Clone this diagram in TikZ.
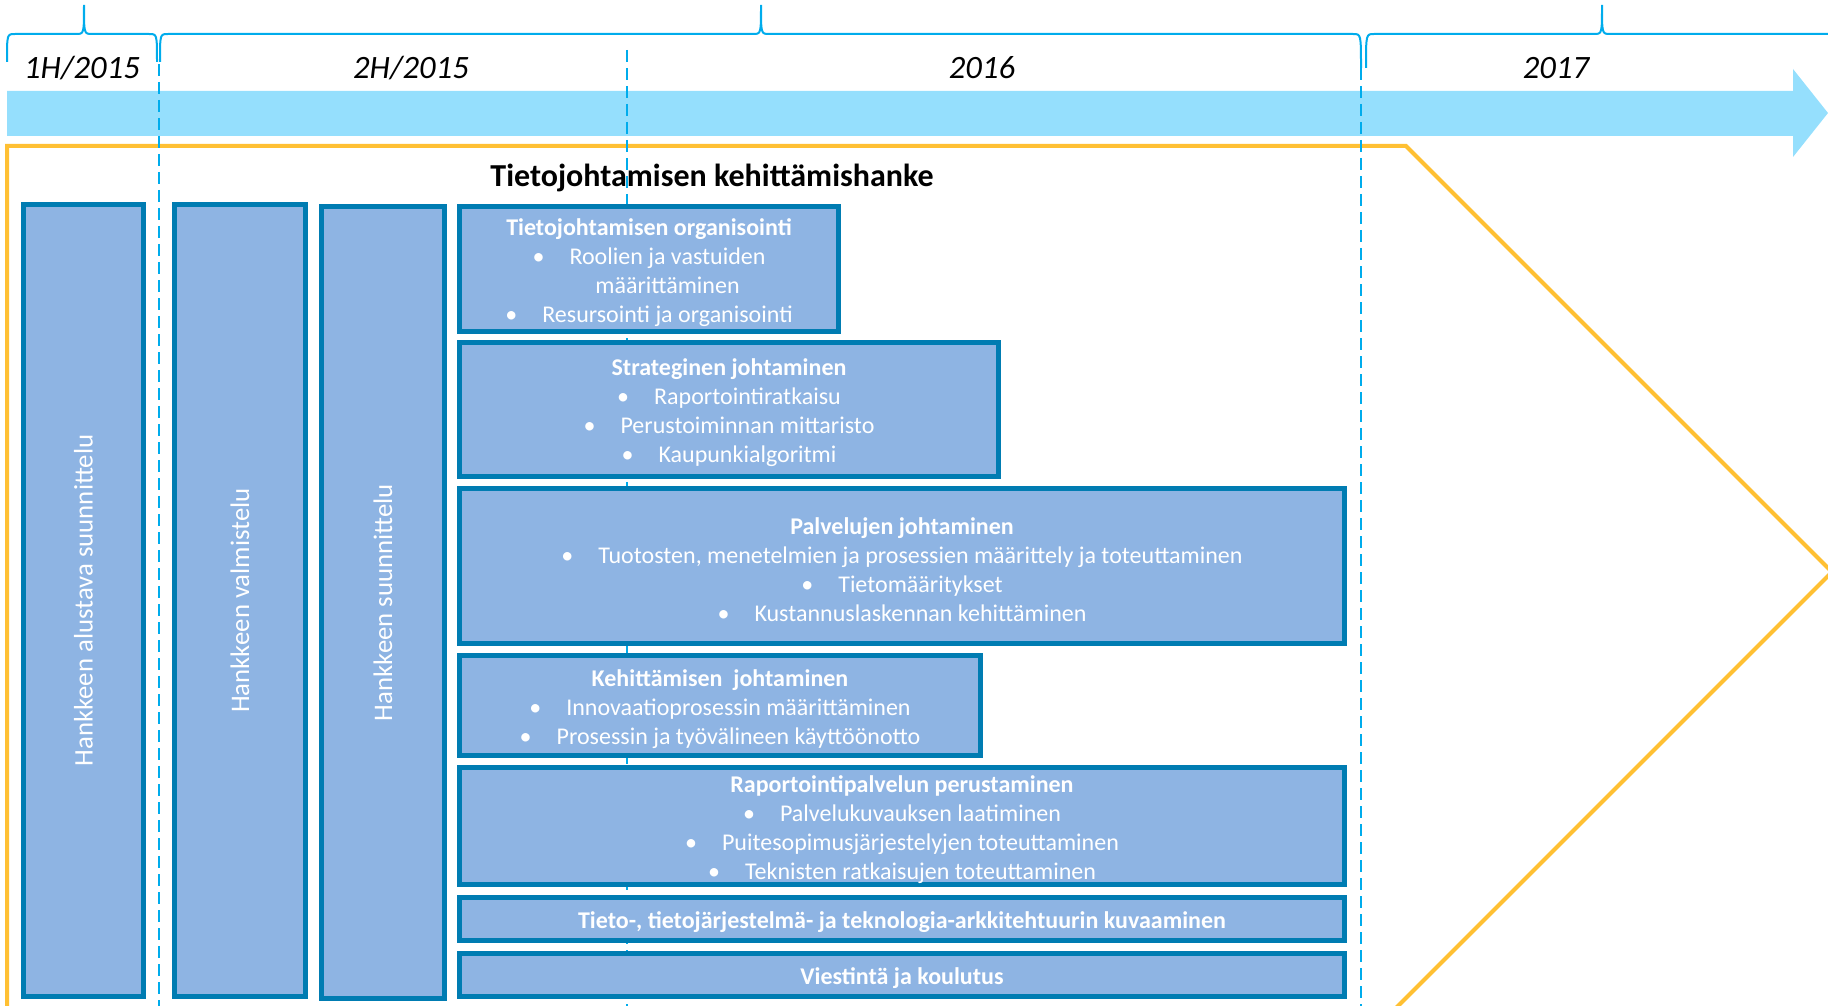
\documentclass[tikz,border=0pt]{standalone}
\usepackage{fontspec}
\setmainfont{Carlito}
\definecolor{bandblue}{RGB}{149,223,253}
\definecolor{boxfill}{RGB}{142,180,227}
\definecolor{boxline}{RGB}{0,124,178}
\definecolor{lineblue}{RGB}{0,172,236}
\definecolor{hankeorange}{RGB}{255,192,51}
\newcommand{\bul}{\makebox[18.5pt][l]{\textbullet}}
\newcommand{\phasehead}[1]{\rule{0pt}{12pt}\textbf{#1}}
% x0, x1, tip, left end, right end
\newcommand{\yrbrace}[5]{\draw[yearbrace] (#1,#4) .. controls (#1,34) and (#1,34) .. (#1+8,34) -- (#3-8,34) .. controls (#3,34) and (#3,34) .. (#3,5) .. controls (#3,34) and (#3,34) .. (#3+8,34) -- (#2-8,34) .. controls (#2,34) and (#2,34) .. (#2,#5);}
\tikzset{
  phasebox/.style={draw=boxline, line width=2.5pt, fill=boxfill, text=white, inner sep=0pt, align=center},
  phase/.style={phasebox, font=\fontsize{12}{14.5}\selectfont},
  vphase/.style={phasebox, rotate=90, font=\fontsize{13.4}{16}\selectfont},
  year/.style={font=\fontsize{16.3}{19}\selectfont\itshape, anchor=base},
  yearbrace/.style={draw=lineblue, line width=1pt},
  divider/.style={draw=lineblue, line width=1.2pt, dash pattern=on 6pt off 3pt},
}
\begin{document}
\begin{tikzpicture}[x=0.5pt,y=-0.5pt]
\useasboundingbox (0,0) rectangle (1828,1006);
\clip (0,0) rectangle (1828,1006);

% timeline
\fill[bandblue] (7,91) -- (1793,91) -- (1793,69) -- (1828,113) -- (1793,157) -- (1793,136) -- (7,136) -- cycle;
\yrbrace{7}{157}{84}{62}{62}
\yrbrace{160}{1361}{761}{62}{68}
\yrbrace{1366}{2060}{1602}{68}{68}
\node[year] (h1) at (82,79) {1H/2015};
\node[year] (h2) at (411,79) {2H/2015};
\node[year] (y16) at (982,79) {2016};
\node[year] (y17) at (1556,79) {2017};

% hanke
\draw[hankeorange, line width=2pt] (7,1012) -- (7,146) -- (1406,146) -- (1832,572) -- (1392,1012);
\draw[divider] (159,64) -- (159,1006);
\draw[divider] (627,50) -- (627,1006);
\draw[divider] (1361,68) -- (1361,1006);
\node[font=\fontsize{16}{18}\selectfont\bfseries, anchor=base] (hanke) at (712,187) {Tietojohtamisen kehittämishanke};

\node[vphase, minimum width=396pt, minimum height=60pt] (alust) at (83.5,600.5) {Hankkeen alustava suunnittelu};
\node[vphase, minimum width=396pt, minimum height=65.5pt] (valm) at (240,600.5) {Hankkeen valmistelu};
\node[vphase, minimum width=396pt, minimum height=61.5pt] (suunn) at (383,602.5) {Hankkeen suunnittelu};

\node[phase, minimum width=189.5pt, minimum height=62.5pt] (org) at (649,269) {\phasehead{Tietojohtamisen organisointi}\\ \bul Roolien ja vastuiden\\ \hphantom{\bul}määrittäminen\\ \bul Resursointi ja organisointi};
\node[phase, minimum width=269.5pt, minimum height=67pt] (strat) at (729,409.5) {\phasehead{Strateginen johtaminen}\\ \bul Raportointiratkaisu\\ \bul Perustoiminnan mittaristo\\ \bul Kaupunkialgoritmi};
\node[phase, minimum width=442.5pt, minimum height=77.5pt] (palv) at (902,566) {\phasehead{Palvelujen johtaminen}\\ \bul Tuotosten, menetelmien ja prosessien määrittely ja toteuttaminen\\ \bul Tietomääritykset\\ \bul Kustannuslaskennan kehittäminen};
\node[phase, minimum width=260.5pt, minimum height=50pt] (kehit) at (720,705.5) {\phasehead{Kehittämisen\ \ johtaminen}\\ \bul Innovaatioprosessin määrittäminen\\ \bul Prosessin ja työvälineen käyttöönotto};
\node[phase, minimum width=442.5pt, minimum height=58.5pt] (rap) at (902,826) {\phasehead{Raportointipalvelun perustaminen}\\ \bul Palvelukuvauksen laatiminen\\ \bul Puitesopimusjärjestelyjen toteuttaminen\\ \bul Teknisten ratkaisujen toteuttaminen};
\node[phase, minimum width=442.5pt, minimum height=21.5pt] (arkk) at (902,919) {\phasehead{Tieto-, tietojärjestelmä- ja teknologia-arkkitehtuurin kuvaaminen}};
\node[phase, minimum width=442.5pt, minimum height=21.5pt] (viest) at (902,975) {\phasehead{Viestintä ja koulutus}};
\end{tikzpicture}
\end{document}
